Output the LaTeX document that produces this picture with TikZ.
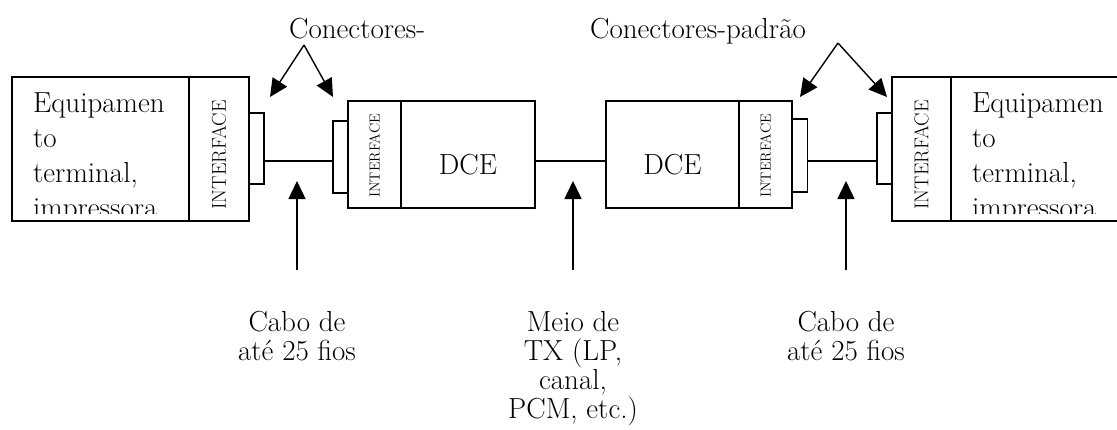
\documentclass[tikz,border=0pt]{standalone}
\usepackage{fontspec}
\usepackage{tikz}
\usetikzlibrary{positioning,arrows.meta}

\begin{document}
\begin{tikzpicture}[x=1pt,y=-1pt,
    box/.style={rectangle,draw,line width=1.4pt,inner sep=0pt},
    plug/.style={rectangle,draw,line width=1.4pt,inner sep=0pt,minimum width=15pt},
    iftext/.style={rotate=90,inner sep=0pt,font=\fontsize{20}{20}\selectfont},
    ifsmall/.style={rotate=90,inner sep=0pt,font=\fontsize{14.5}{14.5}\selectfont},
    eqtext/.style={anchor=north west,inner sep=0pt,align=left,font=\fontsize{29}{35}\selectfont},
    dcetext/.style={inner sep=0pt,font=\fontsize{29}{29}\selectfont},
    lbl/.style={inner sep=0pt,align=center,font=\fontsize{29}{29}\selectfont},
    wire/.style={line width=1.4pt},
    pointer/.style={line width=1.4pt,-{Triangle[length=18pt,width=17pt]}}]

\useasboundingbox (0,0) rectangle (1117,429);
\clip (0,0) rectangle (1117,429);

\node[box,minimum width=177pt,minimum height=144pt] (termL) at (100.5,149) {};
\node[box,minimum width=60pt,minimum height=144pt] (ifL) at (219,149) {};
\node[plug,minimum height=71pt] (plugL) at (256.5,148.5) {};
\node[plug,minimum height=72pt] (plugD1) at (340.5,157) {};
\node[box,minimum width=53pt,minimum height=107pt] (ifD1) at (374.5,154.5) {};
\node[box,minimum width=134pt,minimum height=107pt] (dce1) at (468,154.5) {};
\node[box,minimum width=133pt,minimum height=107pt] (dce2) at (672.5,154.5) {};
\node[box,minimum width=53pt,minimum height=107pt] (ifD2) at (765.5,154.5) {};
\node[plug,minimum height=73pt] (plugD2) at (800,155.5) {};
\node[plug,minimum height=71pt] (plugR) at (884.5,148.5) {};
\node[box,minimum width=59pt,minimum height=144pt] (ifR) at (921.5,149) {};
\node[box,minimum width=178pt,minimum height=144pt] (termR) at (1040,149) {};

\begin{scope}
\clip (termL.north west) rectangle ([yshift=8pt]termL.south east);
\node[eqtext] (eqL) at (33,93) {Equipamen\\to\\terminal,\\impressora};
\end{scope}
\begin{scope}
\clip (termR.north west) rectangle ([yshift=8pt]termR.south east);
\node[eqtext] (eqR) at (972,93) {Equipamen\\to\\terminal,\\impressora};
\end{scope}

\node[iftext] (ifLtxt) at (219,155) {INTERFACE};
\node[ifsmall] (ifD1txt) at (374.5,156) {INTERFACE};
\node[ifsmall] (ifD2txt) at (765.5,156) {INTERFACE};
\node[iftext] (ifRtxt) at (921.5,155) {INTERFACE};
\node[dcetext] (dce1txt) at (468,165) {DCE};
\node[dcetext] (dce2txt) at (672.5,165) {DCE};

\coordinate (wire) at (0,161);
\draw[wire] (plugL.east |- wire) -- (plugD1.west |- wire);
\draw[wire] (dce1.east |- wire) -- (dce2.west |- wire);
\draw[wire] (plugD2.east |- wire) -- (plugR.west |- wire);

\node[lbl,anchor=base west] (conTxtL) at (289,38) {Conectores-};
\node[lbl,anchor=base west] (conTxtR) at (590,38) {Conectores-padrão};
\coordinate (apexL) at (304,45);
\coordinate (apexR) at (838,43);
\coordinate (tipL1) at (270,97);
\coordinate (tipL2) at (333,97);
\coordinate (tipR1) at (800,97);
\coordinate (tipR2) at (887,97);
\draw[pointer] (apexL) -- (tipL1);
\draw[pointer] (apexL) -- (tipL2);
\draw[pointer] (apexR) -- (tipR1);
\draw[pointer] (apexR) -- (tipR2);

\node[lbl,anchor=north] (caboL) at (297,311) {Cabo de\\até 25 fios};
\node[lbl,anchor=north] (meio) at (573,311) {Meio de\\TX (LP,\\canal,\\PCM, etc.)};
\node[lbl,anchor=north] (caboR) at (846,311) {Cabo de\\até 25 fios};
\coordinate (tipC1) at (297,181);
\coordinate (tipC2) at (573,181);
\coordinate (tipC3) at (846,181);
\draw[pointer] ([yshift=41pt]caboL.north) -- (tipC1);
\draw[pointer] ([yshift=41pt]meio.north) -- (tipC2);
\draw[pointer] ([yshift=41pt]caboR.north) -- (tipC3);

\end{tikzpicture}
\end{document}
